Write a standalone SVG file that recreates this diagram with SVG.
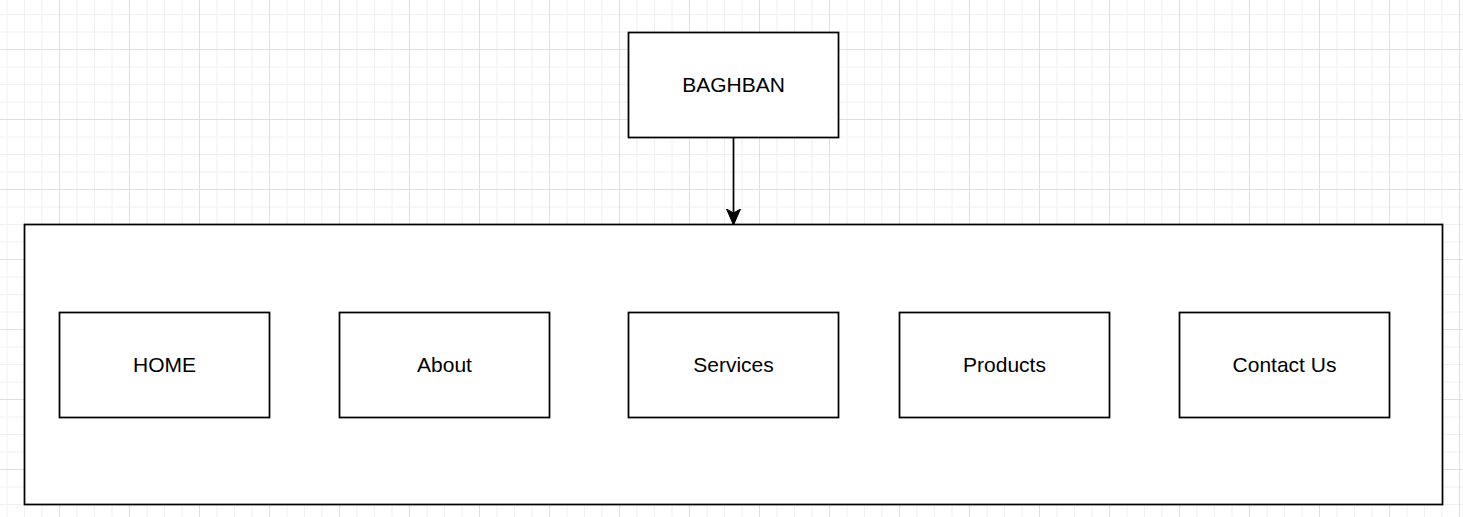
<svg xmlns="http://www.w3.org/2000/svg" width="1463" height="517" viewBox="0 0 1463 517">
  <defs>
    <pattern id="grid" patternUnits="userSpaceOnUse" x="59" y="49" width="70" height="70">
      <path d="M18 0V70M35.5 0V70M53 0V70M0 18H70M0 35.5H70M0 53H70" stroke="#f0f0f0" stroke-width="1" fill="none"/>
      <path d="M0.5 0V70M0 0.5H70" stroke="#e0e0e0" stroke-width="1" fill="none"/>
    </pattern>
    <marker id="arrow" viewBox="0 0 16 16" refX="15" refY="8" markerWidth="16" markerHeight="16" markerUnits="userSpaceOnUse" orient="auto">
      <path d="M0 1 L16 8 L0 15 L4 8 Z" fill="#000" stroke="#000" stroke-width="1"/>
    </marker>
    <style>
      .box { fill: #ffffff; stroke: #000000; stroke-width: 1.75; }
      .lbl { font-family: "Liberation Sans", Arial, sans-serif; font-size: 21px; fill: #000000; text-anchor: middle; }
      .edge { stroke: #000000; stroke-width: 1.75; fill: none; }
    </style>
  </defs>
  <rect width="1463" height="517" fill="#ffffff"/>
  <rect width="1463" height="517" fill="url(#grid)"/>

  <g id="container">
    <rect class="box" x="24.5" y="224.5" width="1418" height="280"/>
  </g>
  <g id="baghban">
    <rect class="box" x="628.5" y="32.5" width="210" height="105"/>
    <text class="lbl" x="733.5" y="92">BAGHBAN</text>
  </g>
  <g id="home">
    <rect class="box" x="59.5" y="312.5" width="210" height="105"/>
    <text class="lbl" x="164.5" y="372">HOME</text>
  </g>
  <g id="about">
    <rect class="box" x="339.5" y="312.5" width="210" height="105"/>
    <text class="lbl" x="444.5" y="372">About</text>
  </g>
  <g id="services">
    <rect class="box" x="628.5" y="312.5" width="210" height="105"/>
    <text class="lbl" x="733.5" y="372">Services</text>
  </g>
  <g id="products">
    <rect class="box" x="899.5" y="312.5" width="210" height="105"/>
    <text class="lbl" x="1004.5" y="372">Products</text>
  </g>
  <g id="contact">
    <rect class="box" x="1179.5" y="312.5" width="210" height="105"/>
    <text class="lbl" x="1284.5" y="372">Contact Us</text>
  </g>

  <g id="connectors">
    <path class="edge" d="M733.5 137.5 V224" marker-end="url(#arrow)"/>
  </g>
</svg>
